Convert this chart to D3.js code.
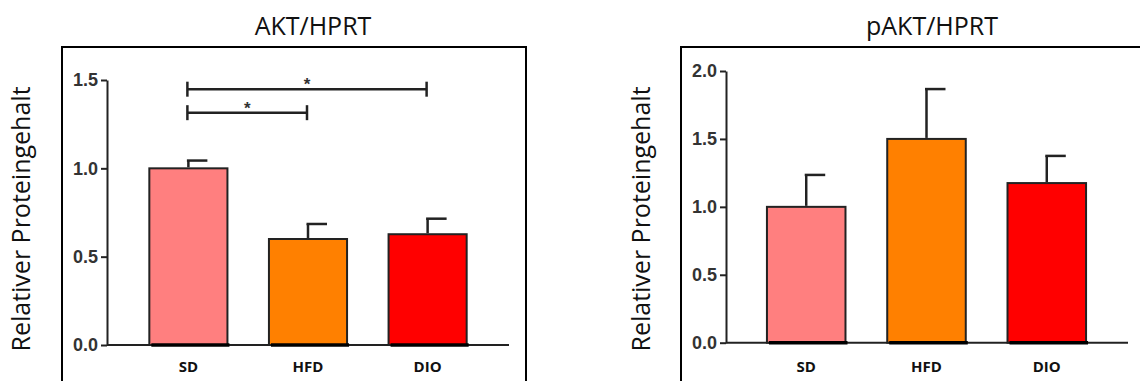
<!DOCTYPE html>
<html>
<head>
<meta charset="utf-8">
<script src="https://cdn.jsdelivr.net/npm/d3@7"></script>
<style>
  body { margin: 0; background: #fff; }
  svg { display: block; }
</style>
</head>
<body>
<div id="chart"></div>
<script>
// categories and values
const groups = ["SD", "HFD", "DIO"];
const barColors = ["#ff7f7f", "#ff8000", "#ff0000"];

const aktMean = [1.0, 0.60, 0.627];
const aktErr = [0.044, 0.085, 0.088];
const aktTicks = [0, 0.5, 1.0, 1.5];
// significance brackets: from, to, height, label
const aktSig = [
    { from: "SD", to: "DIO", y: 1.448, label: "*" },
    { from: "SD", to: "HFD", y: 1.315, label: "*" }
];

const paktMean = [1.0, 1.5, 1.175];
const paktErr = [0.235, 0.367, 0.2];
const paktTicks = [0, 0.5, 1.0, 1.5, 2.0];

const yLabel = "Relativer Proteingehalt";

const W = 1140, H = 381;
const ink = "#222";

const svg = d3.select("#chart").append("svg")
    .attr("width", W)
    .attr("height", H);

// one panel = frame + title + axes + bars
function drawPanel(opt) {
    const g = svg.append("g");

    // frame (top/left/right visible, bottom runs off the picture)
    g.append("path")
        .attr("d", "M" + opt.box[0] + "," + (H + 5) + "V" + opt.box[1] + "H" + opt.box[2] + "V" + (H + 5))
        .attr("fill", "none")
        .attr("stroke", "#000")
        .attr("stroke-width", 2);

    g.append("text")
        .attr("x", opt.titleX)
        .attr("y", 35)
        .attr("text-anchor", "middle")
        .attr("font-family", "Open Sans, sans-serif")
        .attr("font-size", 25)
        .attr("fill", "#111")
        .text(opt.title);

    g.append("text")
        .attr("transform", "translate(" + opt.labelX + ",219) rotate(-90)")
        .attr("text-anchor", "middle")
        .attr("font-family", "Open Sans, sans-serif")
        .attr("font-size", 25)
        .attr("fill", "#111")
        .text(yLabel);

    const y = d3.scaleLinear()
        .domain([0, opt.yMax])
        .range([opt.y0, opt.yTop]);

    const x = d3.scaleBand()
        .domain(groups)
        .range(opt.xRange)
        .paddingInner(0.347)
        .paddingOuter(0.17);

    // y axis
    const yAxis = g.append("g")
        .attr("transform", "translate(" + opt.axisX + ",0)")
        .call(d3.axisLeft(y).tickValues(opt.ticks).tickFormat(d3.format(".1f")).tickSize(6).tickSizeOuter(0).tickPadding(3));
    yAxis.select(".domain").attr("stroke", ink).attr("stroke-width", 2);
    yAxis.selectAll(".tick line").attr("stroke", ink).attr("stroke-width", 2);
    yAxis.selectAll(".tick text")
        .attr("font-family", "Liberation Sans, Arial, sans-serif")
        .attr("font-weight", "bold")
        .attr("font-size", 18)
        .attr("fill", "#333");

    // x axis line
    g.append("line")
        .attr("x1", opt.axisX)
        .attr("x2", opt.axisEnd)
        .attr("y1", y(0))
        .attr("y2", y(0))
        .attr("stroke", ink)
        .attr("stroke-width", 2);

    // bars
    const data = groups.map((k, i) => ({ key: k, mean: opt.mean[i], err: opt.err[i], color: barColors[i] }));

    g.selectAll("rect.bar")
        .data(data)
        .enter()
        .append("rect")
        .attr("class", "bar")
        .attr("x", d => x(d.key))
        .attr("y", d => y(d.mean))
        .attr("width", x.bandwidth())
        .attr("height", d => y(0) - y(d.mean))
        .attr("fill", d => d.color)
        .attr("stroke", ink)
        .attr("stroke-width", 2);

    // heavy line under the bars
    g.selectAll("line.base")
        .data(data)
        .enter()
        .append("line")
        .attr("x1", d => x(d.key) + 2)
        .attr("x2", d => x(d.key) + x.bandwidth() + 2)
        .attr("y1", y(0))
        .attr("y2", y(0))
        .attr("stroke", "#000")
        .attr("stroke-width", 3.5);

    // error bars (upper only, cap to the right of the stem)
    const cx = d => x(d.key) + x.bandwidth() / 2;
    g.selectAll("line.stem")
        .data(data)
        .enter()
        .append("line")
        .attr("x1", cx)
        .attr("x2", cx)
        .attr("y1", d => y(d.mean) - 1)
        .attr("y2", d => y(d.mean + d.err))
        .attr("stroke", ink)
        .attr("stroke-width", 2.5);
    g.selectAll("line.cap")
        .data(data)
        .enter()
        .append("line")
        .attr("x1", d => cx(d) - 1.5)
        .attr("x2", d => cx(d) + 19)
        .attr("y1", d => y(d.mean + d.err))
        .attr("y2", d => y(d.mean + d.err))
        .attr("stroke", ink)
        .attr("stroke-width", 2.5);

    // category labels
    g.selectAll("text.cat")
        .data(data)
        .enter()
        .append("text")
        .attr("class", "cat")
        .attr("x", cx)
        .attr("y", 372)
        .attr("text-anchor", "middle")
        .attr("font-family", "Open Sans, sans-serif")
        .attr("font-weight", "bold")
        .attr("font-size", 15)
        .attr("fill", "#111")
        .text(d => d.key);

    // significance brackets
    (opt.sig || []).forEach(s => {
        const xa = x(s.from) + x.bandwidth() / 2 - 1;
        const xb = x(s.to) + x.bandwidth() / 2 - 1;
        const yy = y(s.y);
        g.append("line")
            .attr("x1", xa).attr("x2", xb)
            .attr("y1", yy).attr("y2", yy)
            .attr("stroke", ink).attr("stroke-width", 2.5);
        [xa, xb].forEach(xx => {
            g.append("line")
                .attr("x1", xx).attr("x2", xx)
                .attr("y1", yy - 7.5).attr("y2", yy + 7.5)
                .attr("stroke", ink).attr("stroke-width", 2.5);
        });
        g.append("text")
            .attr("x", (xa + xb) / 2)
            .attr("y", yy + 1)
            .attr("text-anchor", "middle")
            .attr("font-family", "Liberation Sans, Arial, sans-serif")
            .attr("font-weight", "bold")
            .attr("font-size", 17)
            .attr("fill", "#333")
            .text(s.label);
    });
}

drawPanel({
    title: "AKT/HPRT", titleX: 313, labelX: 30,
    box: [62, 47, 526],
    mean: aktMean, err: aktErr, ticks: aktTicks, yMax: 1.5,
    y0: 345, yTop: 80,
    axisX: 107, axisEnd: 509,
    xRange: [129, 487],
    sig: aktSig
});

drawPanel({
    title: "pAKT/HPRT", titleX: 932, labelX: 650,
    box: [681, 47, 1145],
    mean: paktMean, err: paktErr, ticks: paktTicks, yMax: 2.0,
    y0: 342.7, yTop: 71,
    axisX: 726, axisEnd: 1128,
    xRange: [746.5, 1106.5]
});
</script>
</body>
</html>
